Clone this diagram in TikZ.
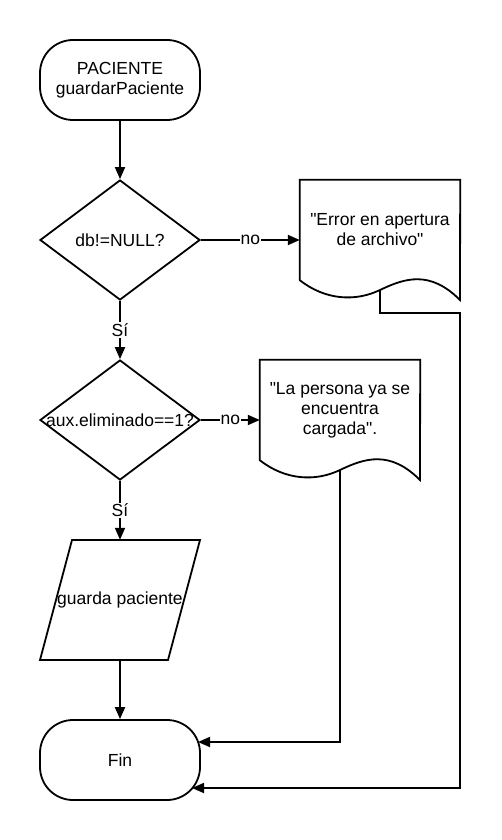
\documentclass[tikz,border=0pt]{standalone}
\usepackage{fontspec}
\setmainfont{Liberation Sans}
\usetikzlibrary{shapes.geometric,arrows.meta}

\tikzstyle{term} = [minimum height=80pt, minimum width=160pt,rectangle,rounded corners=33pt,align=center,style={draw,line width=1.8pt}]
\tikzstyle{deci} = [minimum height=120pt, minimum width=160pt,diamond,inner sep=0pt,style={draw,line width=1.8pt}]
\tikzstyle{docu} = [minimum height=100pt, minimum width=160pt,rectangle,align=center]
\tikzstyle{inout} = [minimum height=120pt, minimum width=160pt,rectangle,inner sep=0pt]
\tikzstyle{fil} = [-{Triangle[length=12pt,width=10pt]},style={line width=1.8pt}]
\tikzstyle{lbl} = [fill=white,inner sep=1pt]

\begin{document}
\begin{tikzpicture}[x=1pt, y=-1pt, font=\fontsize{17.5}{20}\selectfont]
\useasboundingbox (0,0) rectangle (501,840);
% Main column
	\node[term] at (120,80) (start) {PACIENTE\\guardarPaciente};
	\node[deci] at (120,240) (dec1) {db!=NULL?};
	\node[deci] at (120,420) (dec2) {\makebox[0pt]{aux.eliminado==1?}};
	\node[inout] at (120,600) (save) {\makebox[0pt]{guarda paciente}};
	\draw[line width=1.8pt] (72,540) -- (200,540) -- (168,660) -- (40,660) -- cycle;
	\node[term] at (120,760) (fin) {Fin};

% Message documents
	\node[docu] at (380,230) (doc1) {\textquotedbl Error en apertura\\de archivo\textquotedbl};
	\draw[line width=1.8pt] (doc1.north west) -- (doc1.north east) -- (460,300)
		.. controls (430,270) and (405,278) .. (380,290)
		.. controls (355,302) and (325,300) .. (doc1.south west) -- cycle;
	\node[docu] at (340,410) (doc2) {\textquotedbl La persona ya se\\encuentra\\cargada\textquotedbl.};
	\draw[line width=1.8pt] (doc2.north west) -- (doc2.north east) -- (420,480)
		.. controls (390,450) and (365,458) .. (340,470)
		.. controls (315,482) and (285,480) .. (doc2.south west) -- cycle;

% Connection points
	\coordinate (doc1out) at (380,290);
	\coordinate (doc2out) at (340,470);
	\coordinate (bend1) at (460,313);
	\coordinate (finA) at (198,742);
	\coordinate (finB) at (192,788);

% Arrows
	\draw[fil] (start) -- (dec1);
	\draw[fil] (dec1.east) -- node[lbl] {no} (doc1.west |- dec1.east);
	\draw[fil] (dec1) -- node[lbl] {Sí} (dec2);
	\draw[fil] (dec2.east) -- node[lbl] {no} (doc2.west |- dec2.east);
	\draw[fil] (dec2) -- node[lbl] {Sí} (save);
	\draw[fil] (save) -- (fin);
	\draw[fil] (doc2out) |- (finA);
	\draw[fil] (doc1out) |- (bend1) |- (finB);

\end{tikzpicture}
\end{document}
